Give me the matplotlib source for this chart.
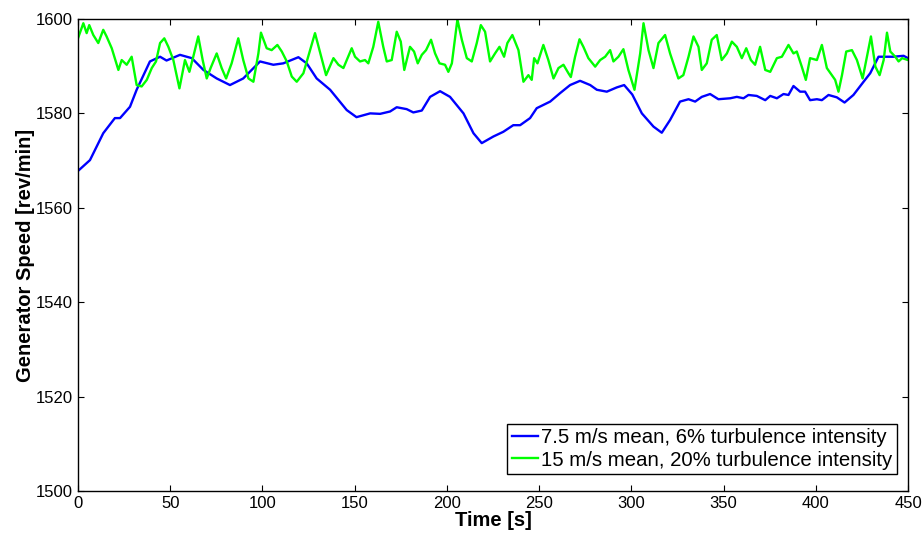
import matplotlib
matplotlib.use("Agg")
import matplotlib.pyplot as plt

plt.rcParams['font.family'] = ['Liberation Sans', 'DejaVu Sans']

# blue: 7.5 m/s mean wind
t_blue = [0, 6.5, 13.7, 20, 22.8, 28.2, 31.8, 39, 44.5, 48, 55.3, 61.7, 68, 75.2,
          82.4, 89.6, 98.7, 105.9, 111.3, 119.5, 124, 129.4, 136.7, 145.7, 151,
          158.4, 163.8, 169.2, 172.8, 178.2, 181.8, 186.4, 190.9, 196.3, 201.7,
          209, 214.4, 218.9, 225.2, 230.6, 236, 239.7, 245.1, 248.7, 256, 261.4,
          266.8, 272.2, 277.7, 281.3, 286.7, 292.1, 296.1, 300.5, 305.7, 312,
          316.5, 321, 326.4, 331, 334.6, 338.2, 342.7, 347.2, 353.6, 357.2, 360.8,
          363.5, 368, 372.6, 375.3, 378.9, 382.5, 385.2, 387.9, 391.5, 394.2,
          396.9, 400.6, 403.3, 406.9, 411.4, 415.6, 420.4, 425.9, 429.5, 434,
          442.1, 447.6, 450]
v_blue = [1567.8, 1570.1, 1575.8, 1579, 1579, 1581.4, 1585, 1591, 1592, 1591.2,
          1592.4, 1591.7, 1589.2, 1587.4, 1586, 1587.4, 1591, 1590.3, 1590.6,
          1591.9, 1590.6, 1587.4, 1585, 1580.7, 1579.2, 1580, 1579.9, 1580.4,
          1581.3, 1580.9, 1580.2, 1580.6, 1583.5, 1584.7, 1583.5, 1580, 1575.8,
          1573.7, 1575.1, 1576.1, 1577.5, 1577.5, 1579, 1581.1, 1582.5, 1584.3,
          1586, 1586.9, 1586, 1585, 1584.6, 1585.5, 1586, 1584, 1580, 1577.2,
          1575.9, 1578.6, 1582.5, 1583, 1582.5, 1583.5, 1584.1, 1583, 1583.2,
          1583.5, 1583.2, 1583.9, 1583.7, 1582.8, 1583.7, 1583.2, 1584.1, 1583.9,
          1585.8, 1584.6, 1584.6, 1582.8, 1583, 1582.8, 1583.9, 1583.4, 1582.3,
          1583.9, 1586.7, 1588.5, 1592, 1592, 1592.2, 1591.7]

# green: 15 m/s mean wind
t_green = [0, 2.9, 4.7, 6.1, 8.3, 11, 13.7, 15.5, 18.3, 21.9, 23.7, 26.4, 29.1,
           31.8, 34.5, 37.3, 40, 42.3, 44.5, 46.8, 49, 51.7, 55, 58, 60.4, 62.5,
           65.2, 67.6, 69.8, 71.9, 75.2, 77.9, 80.3, 83.3, 86.9, 89.6, 92.4, 95.1,
           97.8, 99.2, 102.3, 105, 108.1, 110.5, 113.2, 115.9, 118.6, 122.2, 128.5,
           131.6, 134.5, 138.5, 141.2, 143.9, 148.4, 150.2, 152.9, 155.6, 157.4,
           160.1, 162.8, 165.5, 167.4, 170.1, 172.8, 175, 176.9, 180, 182.2, 184.2,
           186.4, 188.7, 191.4, 193.6, 196, 199, 200.8, 202.7, 205.7, 208.1, 210.8,
           213.5, 216.2, 218.4, 220.7, 223.4, 226.1, 228.5, 231, 232.8, 235.5,
           238.8, 241.5, 244.2, 246, 247.3, 249.1, 252.3, 255, 257.8, 260.5, 263.2,
           265.9, 267.2, 269.5, 271.9, 274, 276.7, 280.4, 283.1, 285.8, 288.5,
           290.3, 293, 295.7, 298.4, 301.7, 304.8, 306.6, 309.3, 312, 314.7, 318.3,
           321, 325.5, 328.2, 331, 333.7, 336.4, 338.2, 340.9, 343.6, 346.3, 349,
           351.8, 354.5, 357.2, 359.9, 362.3, 364.8, 367.1, 369.8, 372.6, 375.3,
           378.9, 381.6, 385.2, 387.9, 389.7, 392.4, 394.6, 396.9, 400.6, 403.3,
           406, 408.7, 410.5, 412.3, 414.2, 416.5, 419.6, 422.3, 425.4, 427.7,
           429.9, 432.3, 434.6, 436.8, 438.6, 440.4, 443.1, 444.9, 446.8, 450]
v_green = [1595.9, 1599.1, 1597, 1598.7, 1596.6, 1594.9, 1597.7, 1596.3, 1593.8,
           1589.2, 1591.3, 1590.3, 1592, 1586, 1585.7, 1587.1, 1589.6, 1591,
           1594.9, 1595.9, 1594.1, 1591.3, 1585.3, 1591.3, 1588.8, 1592, 1596.3,
           1591.3, 1587.4, 1589.6, 1592.7, 1589.6, 1587.4, 1590.6, 1595.9, 1591.3,
           1587.4, 1586.7, 1592.7, 1597.1, 1593.8, 1593.4, 1594.5, 1593.1, 1591,
           1587.8, 1586.7, 1588.5, 1597, 1592.4, 1588.1, 1591.7, 1590.3, 1589.6,
           1593.8, 1592, 1591, 1591.3, 1590.6, 1594.1, 1599.4, 1594.1, 1591,
           1591.3, 1597.3, 1595.2, 1589.2, 1594.1, 1593.1, 1590.6, 1592.4, 1593.4,
           1595.6, 1592.7, 1590.6, 1590.3, 1588.8, 1590.6, 1599.9, 1595.6, 1591.7,
           1591, 1594.9, 1598.7, 1597.3, 1591, 1592.7, 1594.1, 1592, 1594.9,
           1596.6, 1593.4, 1586.7, 1588.1, 1587.1, 1591.7, 1590.6, 1594.5, 1591.3,
           1587.4, 1589.6, 1590.3, 1588.5, 1587.7, 1592, 1595.7, 1594.1, 1591.7,
           1589.9, 1591.3, 1592, 1593.4, 1591, 1592, 1593.6, 1589.2, 1585, 1592.7,
           1599.1, 1593.4, 1589.6, 1594.9, 1596.6, 1592.7, 1587.4, 1588.1, 1592,
           1596.3, 1594.1, 1589.2, 1590.6, 1595.6, 1596.6, 1591.3, 1592.7, 1595.2,
           1594.1, 1591.7, 1593.8, 1591.3, 1590.3, 1594.1, 1589.2, 1588.8, 1591.7,
           1592, 1594.5, 1592.7, 1593.1, 1589.9, 1587.1, 1591.7, 1591.3, 1594.5,
           1589.6, 1588.1, 1587.1, 1584.6, 1588.1, 1593.1, 1593.4, 1591.3, 1587.4,
           1592, 1596.3, 1589.9, 1588.1, 1591.3, 1597.1, 1593.1, 1592, 1591,
           1591.7, 1591.3]

labels = ["7.5 m/s mean, 6% turbulence intensity",
          "15 m/s mean, 20% turbulence intensity"]

fig = plt.figure(figsize=(9.24, 5.33), dpi=100)
ax = fig.add_axes([0.0844, 0.0788, 0.8983, 0.8856])

ax.plot(t_blue, v_blue, color='#0000ff', lw=1.7, label=labels[0])
ax.plot(t_green, v_green, color='#00ff00', lw=1.7, label=labels[1])

ax.set_xlim(0, 450)
ax.set_ylim(1500, 1600)
ax.set_xticks(range(0, 451, 50))
ax.set_yticks(range(1500, 1601, 20))
ax.tick_params(direction='in', top=True, right=True, labelsize=12, length=4, pad=3.5)
for s in ax.spines.values():
    s.set_linewidth(1.0)

ax.set_xlabel("Time [s]", fontsize=14.5, fontweight='bold', labelpad=0)
ax.set_ylabel("Generator Speed [rev/min]", fontsize=14.5, fontweight='bold', labelpad=1)

leg = ax.legend(loc='lower right', bbox_to_anchor=(0.9867, 0.036), borderaxespad=0,
                fontsize=14.7, handlelength=1.3, handletextpad=0.15,
                borderpad=0.22, labelspacing=0.15, fancybox=False,
                framealpha=1, edgecolor='black')
leg.get_frame().set_linewidth(1.0)

fig.savefig("out.png", dpi=100)
